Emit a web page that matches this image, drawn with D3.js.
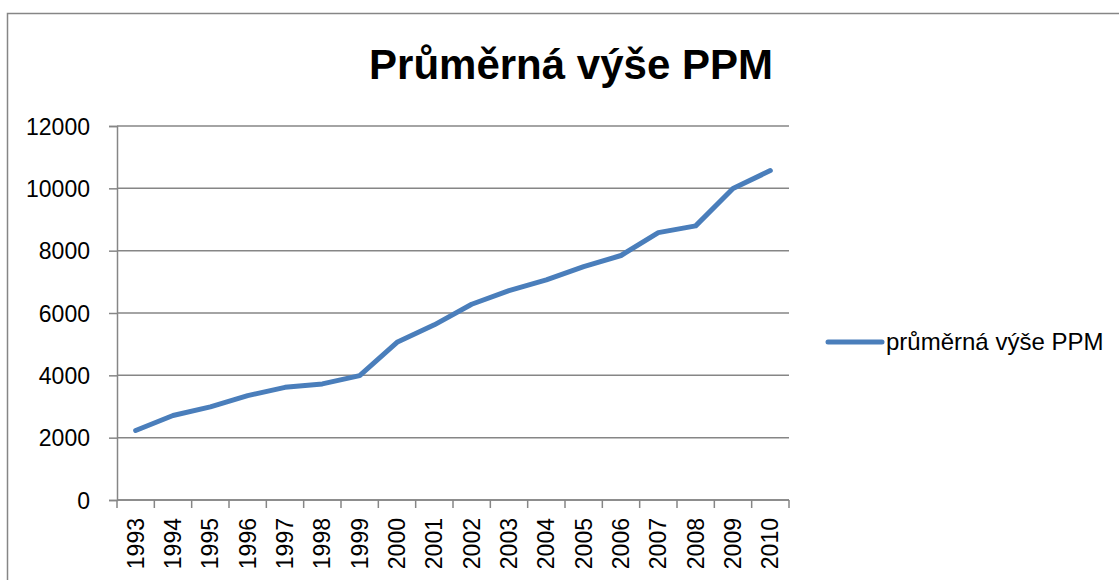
<!DOCTYPE html>
<html>
<head>
<meta charset="utf-8">
<script src="https://cdn.jsdelivr.net/npm/d3@7"></script>
<style>
  body { margin: 0; background: #fff; }
  text { font-family: "Liberation Sans", Arial, sans-serif; fill: #000; }
</style>
</head>
<body>
<div id="chart"></div>
<script>
// data
const years = ["1993", "1994", "1995", "1996", "1997", "1998", "1999", "2000", "2001",
               "2002", "2003", "2004", "2005", "2006", "2007", "2008", "2009", "2010"];
const values = [2230, 2710, 2990, 3350, 3615, 3725, 3990, 5060, 5620,
                6280, 6720, 7060, 7490, 7845, 8580, 8795, 9995, 10570];
const yTicks = [0, 2000, 4000, 6000, 8000, 10000, 12000];
const seriesName = "průměrná výše PPM";
const title = "Průměrná výše PPM";

const width = 1119, height = 580;
const plot = {left: 117, right: 789, top: 126, bottom: 500};
const gridColor = "#868686";
const lineColor = "#4a7ebb";

const svg = d3.select("#chart").append("svg")
    .attr("width", width)
    .attr("height", height);

// outer chart border (right and bottom fall outside the picture)
svg.append("rect")
    .attr("x", 7.5).attr("y", 13.5)
    .attr("width", 1130).attr("height", 600)
    .attr("fill", "none")
    .attr("stroke", gridColor)
    .attr("stroke-width", 1.5);

const x = d3.scaleBand().domain(years).range([plot.left, plot.right]).padding(0);
const y = d3.scaleLinear().domain([0, 12000]).range([plot.bottom, plot.top]);

// gridlines
svg.append("g")
    .selectAll("line")
    .data(yTicks)
    .join("line")
    .attr("x1", plot.left).attr("x2", plot.right)
    .attr("y1", d => y(d)).attr("y2", d => y(d))
    .attr("stroke", gridColor)
    .attr("stroke-width", 1.5);

// y axis
const yAxis = svg.append("g")
    .attr("transform", `translate(${plot.left},0)`)
    .call(d3.axisLeft(y).tickValues(yTicks).tickSize(8).tickPadding(19).tickFormat(d3.format("d")));
yAxis.select(".domain").attr("stroke", gridColor).attr("stroke-width", 1.5);
yAxis.selectAll(".tick line").attr("stroke", gridColor).attr("stroke-width", 1.5);
yAxis.selectAll("text").style("font-size", "23px").attr("dy", "0.35em");

// x axis: labels at band centres, tick marks at band edges
const xAxis = svg.append("g")
    .attr("transform", `translate(0,${plot.bottom})`)
    .call(d3.axisBottom(x).tickSize(0).tickPadding(0));
xAxis.select(".domain").remove();
xAxis.selectAll(".tick text")
    .style("font-size", "23px")
    .attr("text-anchor", "end")
    .attr("transform", "rotate(-90)")
    .attr("x", -18)
    .attr("y", 0)
    .attr("dy", "0.35em");

svg.append("line")
    .attr("x1", plot.left).attr("x2", plot.right)
    .attr("y1", plot.bottom).attr("y2", plot.bottom)
    .attr("stroke", gridColor).attr("stroke-width", 1.5);

const edges = years.map(d => x(d)).concat([x(years[years.length - 1]) + x.bandwidth()]);
svg.append("g")
    .selectAll("line")
    .data(edges)
    .join("line")
    .attr("x1", d => d).attr("x2", d => d)
    .attr("y1", plot.bottom).attr("y2", plot.bottom + 8)
    .attr("stroke", gridColor)
    .attr("stroke-width", 1.5);

// series line
const line = d3.line()
    .x((d, i) => x(years[i]) + x.bandwidth() / 2)
    .y(d => y(d));

svg.append("path")
    .datum(values)
    .attr("d", line)
    .attr("fill", "none")
    .attr("stroke", lineColor)
    .attr("stroke-width", 5)
    .attr("stroke-linejoin", "round")
    .attr("stroke-linecap", "round");

// title
svg.append("text")
    .attr("x", 571)
    .attr("y", 79)
    .attr("text-anchor", "middle")
    .style("font-size", "42px")
    .style("font-weight", "bold")
    .text(title);

// legend
const legend = svg.append("g").attr("transform", "translate(828,342)");
legend.append("line")
    .attr("x1", 0).attr("x2", 54)
    .attr("stroke", lineColor)
    .attr("stroke-width", 5)
    .attr("stroke-linecap", "round");
legend.append("text")
    .attr("x", 58)
    .attr("dy", "0.35em")
    .style("font-size", "24px")
    .text(seriesName);
</script>
</body>
</html>
